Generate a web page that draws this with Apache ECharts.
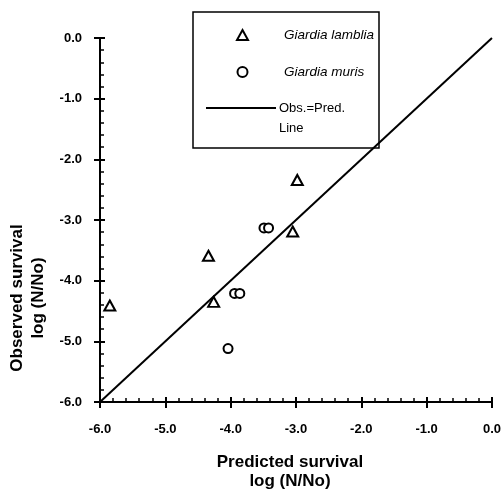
<!DOCTYPE html>
<html>
<head>
<meta charset="utf-8">
<script src="https://cdn.jsdelivr.net/npm/echarts@6/dist/echarts.min.js"></script>
<style>
  html, body { margin: 0; padding: 0; background: #fff; }
  #main { width: 504px; height: 489px; }
</style>
</head>
<body>
<div id="main"></div>
<script>
// data: predicted vs observed log(N/No)
var lambliaPred = [-5.85, -4.34, -4.26, -3.05, -2.98];
var lambliaObs  = [-4.41, -3.59, -4.35, -3.19, -2.34];
var murisPred   = [-3.49, -3.42, -3.94, -3.86, -4.04];
var murisObs    = [-3.13, -3.13, -4.21, -4.21, -5.12];
var lineX = [-6, 0];
var lineY = [-6, 0];

var font = 'Liberation Sans, Arial, sans-serif';

function pairs(xs, ys) {
    return xs.map(function (x, i) { return [x, ys[i]]; });
}

var myChart = echarts.init(document.getElementById('main'));

// main axis: line, labels, inside ticks + minor ticks
function mainAxis(pos) {
    return {
        type: 'value', position: pos, min: -6, max: 0, interval: 1,
        axisLine: { show: true, onZero: false, lineStyle: { color: '#000', width: 2 } },
        axisTick: { show: true, inside: true, length: 5, lineStyle: { color: '#000', width: 2 } },
        minorTick: { show: true, splitNumber: 5, length: 4, lineStyle: { color: '#000', width: 1.5 } },
        splitLine: { show: false },
        axisLabel: {
            color: '#000', fontFamily: font, fontSize: 13, fontWeight: 'bold',
            margin: pos === 'left' ? 18 : 21,
            formatter: function (v) { return v.toFixed(1); }
        }
    };
}
// twin axis only for the outer half of the major ticks
function twinAxis(pos) {
    return {
        type: 'value', position: pos, min: -6, max: 0, interval: 1,
        axisLine: { show: false, onZero: false },
        axisTick: { show: true, inside: false, length: 6, lineStyle: { color: '#000', width: 2 } },
        splitLine: { show: false },
        axisLabel: { show: false }
    };
}

var option = {
    backgroundColor: '#fff',
    animation: false,
    grid: { left: 100, right: 8, top: 38, bottom: 87 },
    xAxis: [mainAxis('bottom'), twinAxis('bottom')],
    yAxis: [mainAxis('left'), twinAxis('left')],
    legend: [
        {
            orient: 'vertical', left: 236, top: 27, padding: 0,
            itemWidth: 11, itemHeight: 10, itemGap: 21,
            data: ['Giardia lamblia', 'Giardia muris'],
            textStyle: {
                color: '#000', fontFamily: font, fontSize: 13.5, fontStyle: 'italic',
                lineHeight: 16, padding: [0, 0, 0, 31]
            }
        },
        {
            orient: 'vertical', left: 206, top: 78, padding: 0,
            itemWidth: 70, itemHeight: 2,
            data: [{ name: 'Obs.=Pred.\nLine', icon: 'rect' }],
            // blank first line keeps "Obs.=Pred." level with the line icon
            formatter: function (name) { return '\u00a0\n' + name; },
            textStyle: {
                color: '#000', fontFamily: font, fontSize: 13, lineHeight: 20,
                padding: [0, 0, 0, -2]
            }
        }
    ],
    graphic: [
        { type: 'rect', z: -1, shape: { x: 193, y: 12, width: 186, height: 136 },
          style: { fill: 'none', stroke: '#000', lineWidth: 1.5 } },
        { type: 'text', x: 290, y: 462, style: { text: 'Predicted survival', font: 'bold 17px ' + font, textAlign: 'center', textVerticalAlign: 'middle', fill: '#000' } },
        { type: 'text', x: 290, y: 481, style: { text: 'log (N/No)', font: 'bold 17px ' + font, textAlign: 'center', textVerticalAlign: 'middle', fill: '#000' } },
        { type: 'text', x: 17, y: 298, rotation: Math.PI / 2, style: { text: 'Observed survival', font: 'bold 17px ' + font, textAlign: 'center', textVerticalAlign: 'middle', fill: '#000' } },
        { type: 'text', x: 38, y: 298, rotation: Math.PI / 2, style: { text: 'log (N/No)', font: 'bold 17px ' + font, textAlign: 'center', textVerticalAlign: 'middle', fill: '#000' } }
    ],
    series: [
        {
            name: 'Obs.=Pred.\nLine', type: 'line', symbol: 'none',
            data: pairs(lineX, lineY),
            lineStyle: { color: '#000', width: 2 },
            itemStyle: { color: '#000' }
        },
        {
            name: 'Giardia lamblia', type: 'scatter', symbol: 'triangle', symbolSize: [11, 10],
            data: pairs(lambliaPred, lambliaObs),
            itemStyle: { color: '#fff', borderColor: '#000', borderWidth: 2, opacity: 1 }
        },
        {
            name: 'Giardia muris', type: 'scatter', symbol: 'circle', symbolSize: 9,
            data: pairs(murisPred, murisObs),
            itemStyle: { color: '#fff', borderColor: '#000', borderWidth: 2, opacity: 1 }
        }
    ]
};

myChart.setOption(option);
</script>
</body>
</html>
